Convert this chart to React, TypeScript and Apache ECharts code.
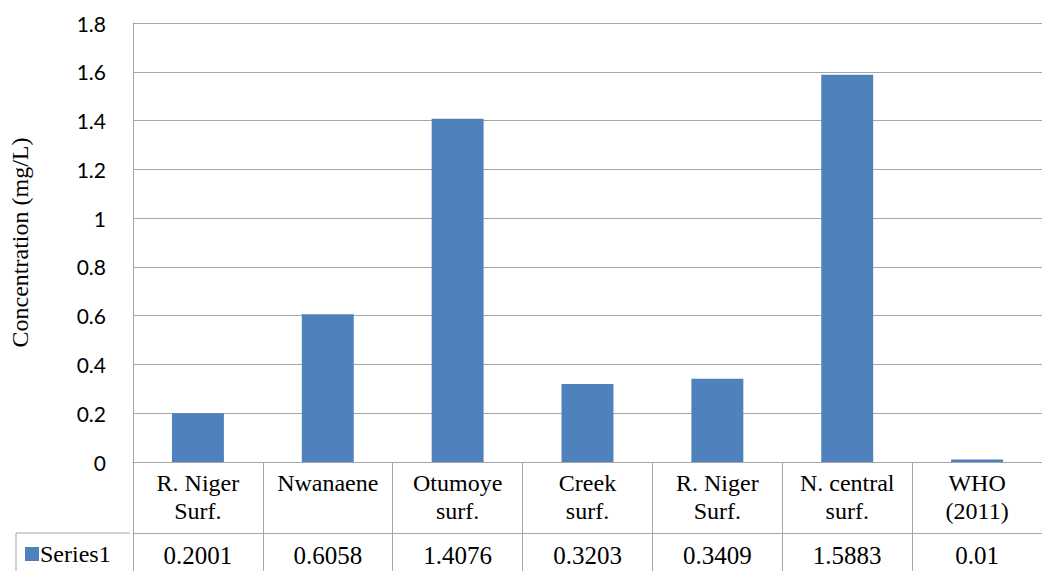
import React, { useEffect, useRef } from "react";
import * as echarts from "echarts";

const categories = [
  "R. Niger\nSurf.",
  "Nwanaene",
  "Otumoye\nsurf.",
  "Creek\nsurf.",
  "R. Niger\nSurf.",
  "N. central\nsurf.",
  "WHO\n(2011)",
];
const seriesName = "Series1";
const values = [0.2001, 0.6058, 1.4076, 0.3203, 0.3409, 1.5883, 0.01];
const yTicks = { min: 0, max: 1.8, interval: 0.2 };
const yAxisTitle = "Concentration (mg/L)";

const BAR = "#4F81BD";
const LINE = "#A6A6A6";
const SERIF = "Liberation Serif";
const SANS = "Lato";

export default function App() {
  const ref = useRef<HTMLDivElement>(null);
  useEffect(() => {
    if (!ref.current) return;
    const chart = echarts.init(ref.current, null, { renderer: "svg" });
    const gridLeft = 130;
    const gridTop = 23;
    const gridHeight = 439;
    const gridBottomY = gridTop + gridHeight;
    const rowY = gridBottomY + 71;
    chart.setOption({
      animation: false,
      backgroundColor: "#fff",
      textStyle: { fontFamily: SERIF },
      grid: { left: gridLeft, top: gridTop, width: 924, height: gridHeight, containLabel: false },
      xAxis: [
        {
          type: "category",
          data: categories,
          position: "bottom",
          boundaryGap: true,
          axisLine: { show: true, lineStyle: { color: LINE, width: 1 } },
          axisTick: { show: true, alignWithLabel: false, length: 112, lineStyle: { color: LINE, width: 1 } },
          axisLabel: {
            interval: 0,
            margin: 7,
            color: "#000",
            fontFamily: SERIF,
            fontSize: 24,
            lineHeight: 28,
          },
        },
        {
          type: "category",
          data: values.map((v) => String(v)),
          position: "bottom",
          offset: 71,
          boundaryGap: true,
          axisLine: { show: true, lineStyle: { color: LINE, width: 1 } },
          axisTick: { show: false },
          axisLabel: {
            interval: 0,
            margin: 9,
            color: "#000",
            fontFamily: SERIF,
            fontSize: 25,
            lineHeight: 26,
          },
        },
      ],
      yAxis: {
        type: "value",
        min: yTicks.min,
        max: yTicks.max,
        interval: yTicks.interval,
        name: yAxisTitle,
        nameLocation: "middle",
        nameGap: 101,
        nameTextStyle: { fontFamily: SERIF, fontSize: 24, color: "#000" },
        axisLine: { show: true, lineStyle: { color: LINE, width: 1 } },
        axisTick: { show: false },
        splitLine: { show: true, lineStyle: { color: LINE, width: 1 } },
        axisLabel: {
          margin: 27,
          color: "#000",
          fontFamily: SANS,
          fontSize: 21,
          formatter: (v: number) => String(Math.round(v * 10) / 10),
        },
      },
      series: [
        {
          name: seriesName,
          type: "bar",
          data: values,
          xAxisIndex: 0,
          barCategoryGap: "60%",
          itemStyle: { color: BAR },
        },
      ],
      graphic: [
        {
          type: "line",
          shape: { x1: 16, y1: rowY, x2: gridLeft, y2: rowY },
          style: { stroke: LINE, lineWidth: 1 },
        },
        {
          type: "line",
          shape: { x1: 16, y1: rowY, x2: 16, y2: 575 },
          style: { stroke: LINE, lineWidth: 1 },
        },
        {
          type: "rect",
          shape: { x: 25, y: rowY + 14, width: 14, height: 14 },
          style: { fill: BAR },
        },
        {
          type: "text",
          x: 40,
          y: rowY + 21,
          style: {
            text: seriesName,
            fontFamily: SERIF,
            fontSize: 24,
            fill: "#000",
            verticalAlign: "middle",
            align: "left",
          },
        },
      ],
    });
    return () => chart.dispose();
  }, []);
  return (
    <div
      ref={ref}
      style={{ position: "fixed", left: 0, top: 0, width: 1042, height: 571, background: "#fff" }}
    />
  );
}
